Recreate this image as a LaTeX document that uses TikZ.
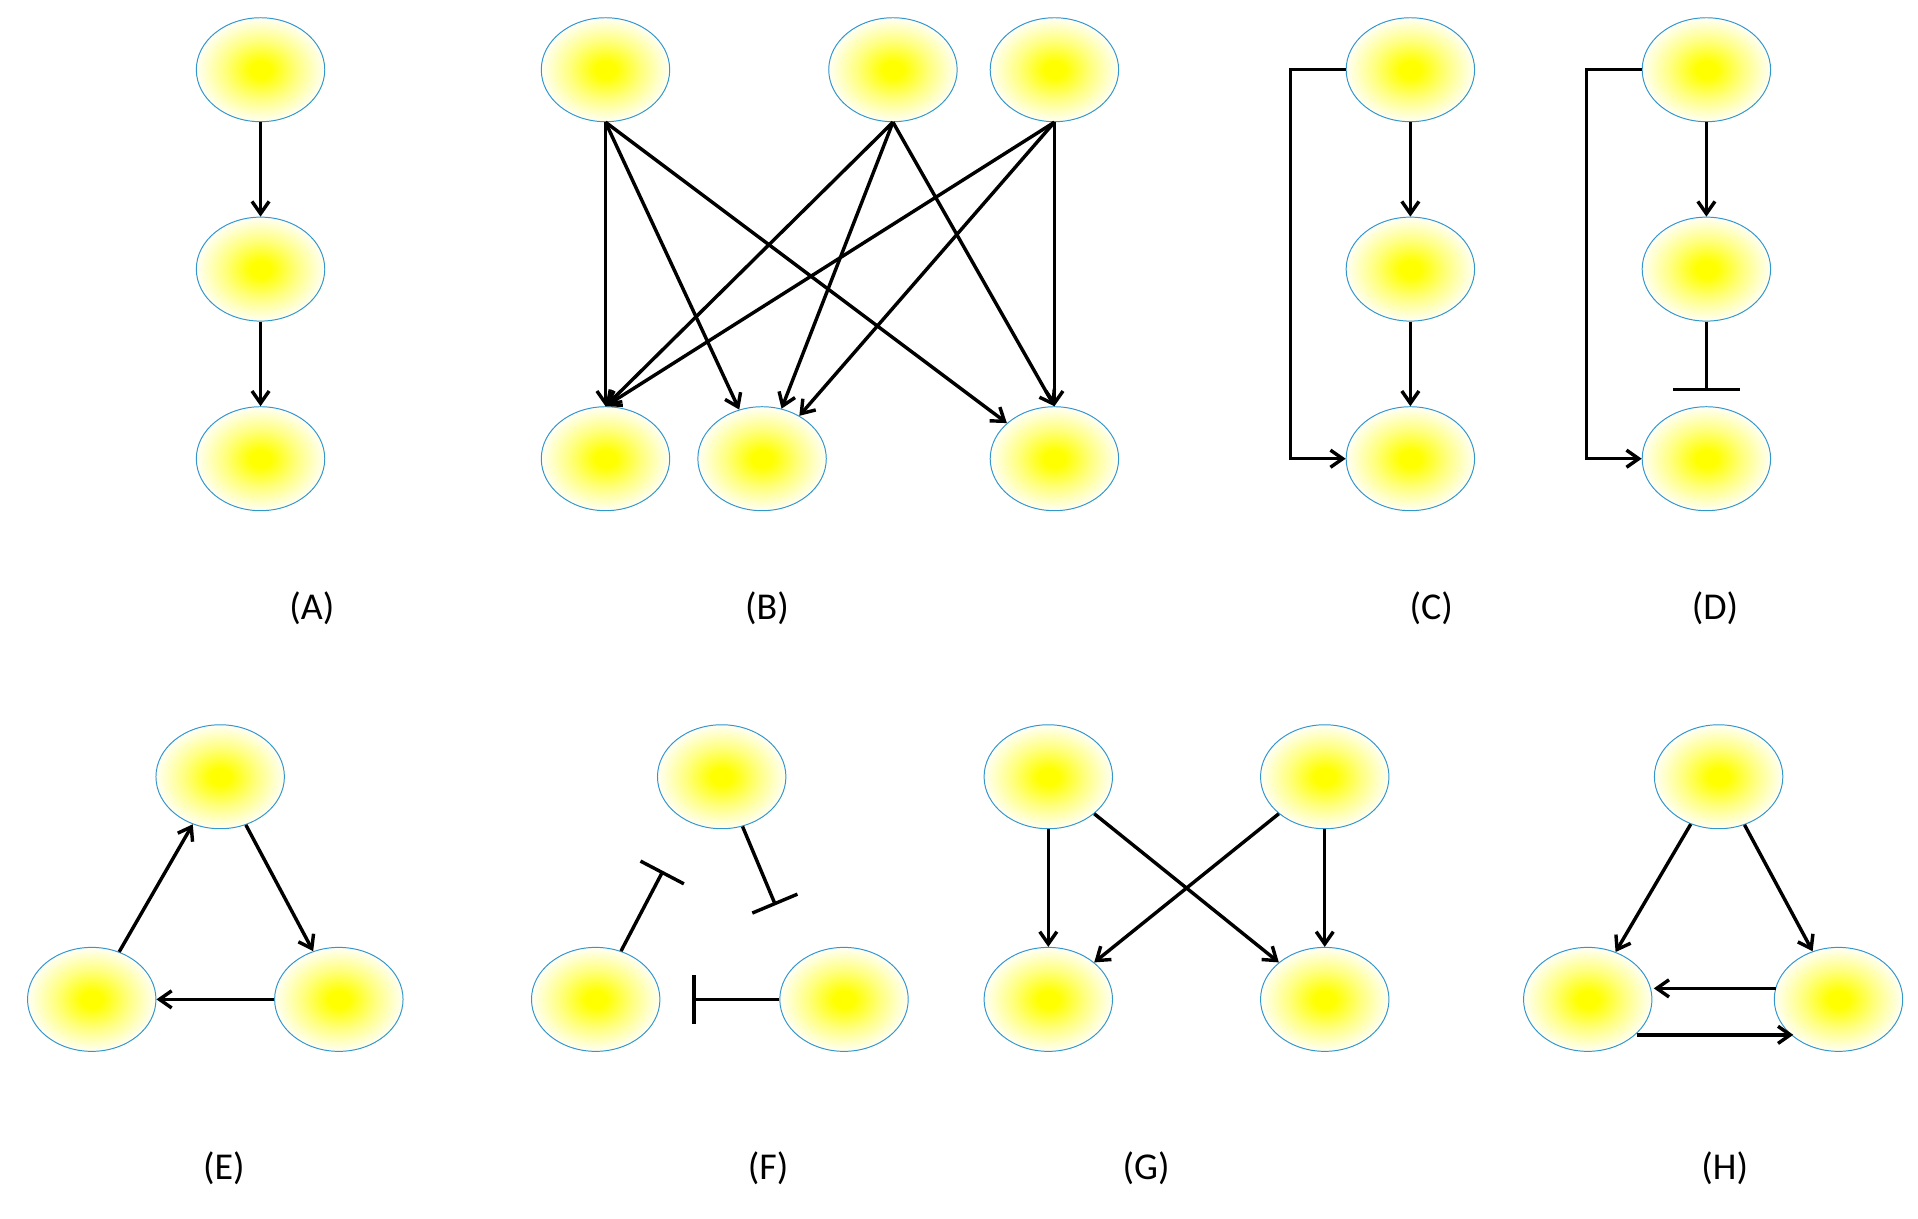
\documentclass[tikz,border=0pt]{standalone}
\usepackage{fontspec}
\setmainfont{Carlito}
\usetikzlibrary{arrows.meta,shapes.geometric}
\pgfdeclareradialshading{cellshade}{\pgfpoint{0bp}{0bp}}{color(0bp)=(yellow); color(4bp)=(yellow); color(14bp)=(yellow!50!white); color(26bp)=(white); color(50bp)=(white)}
\begin{document}
\begin{tikzpicture}[x=1pt,y=-1pt,
  cell/.style={ellipse,minimum width=105pt,minimum height=85pt,inner sep=0pt,draw=blue!35!cyan!60!gray,line width=0.8pt,shading=cellshade},
  act/.style={line width=2.8pt,-{Straight Barb[length=10pt,width=14pt]}},
  inh/.style={line width=2.8pt},
  lab/.style={font=\fontsize{31}{34}\selectfont}]
\useasboundingbox (0,0) rectangle (1568,996);
% A
\node[cell] (a1) at (213,57) {}; \node[cell] (a2) at (213,220) {}; \node[cell] (a3) at (213,375) {};
\draw[act] (a1) -- (a2); \draw[act] (a2) -- (a3);
\node[lab] (la) at (255,497) {(A)};
% B
\node[cell] (t1) at (495,57) {}; \node[cell] (t2) at (730,57) {}; \node[cell] (t3) at (862,57) {};
\node[cell] (b1) at (495,375) {}; \node[cell] (b2) at (623,375) {}; \node[cell] (b3) at (862,375) {};
\foreach \t in {t1,t2,t3}{\draw[act] (\t.south) -- (b1.north); \draw[act] (\t.south) -- (b2);}
\draw[act] (t1.south) -- (b3); \draw[act] (t2.south) -- (b3.north); \draw[act] (t3.south) -- (b3.north);
\node[lab] (lb) at (627,497) {(B)};
% C
\node[cell] (c1) at (1153,57) {}; \node[cell] (c2) at (1153,220) {}; \node[cell] (c3) at (1153,375) {};
\draw[act] (c1) -- (c2); \draw[act] (c2) -- (c3);
\draw[act] (c1.west) -- ++(-45,0) |- (c3.west);
\node[lab] (lc) at (1170,497) {(C)};
% D
\node[cell] (d1) at (1395,57) {}; \node[cell] (d2) at (1395,220) {}; \node[cell] (d3) at (1395,375) {};
\draw[act] (d1) -- (d2);
\coordinate (dbar) at (1395,320);
\draw[inh,-{Bar[width=55pt]}] (d2) -- (dbar);
\draw[act] (d1.west) -- ++(-45,0) |- (d3.west);
\node[lab] (ld) at (1402,497) {(D)};
% E
\node[cell] (e1) at (180,635) {}; \node[cell] (e2) at (75,817) {}; \node[cell] (e3) at (277,817) {};
\draw[act] (e2) -- (e1); \draw[act] (e1) -- (e3); \draw[act] (e3) -- (e2);
\node[lab] (le) at (183,955) {(E)};
% F
\node[cell] (f1) at (590,635) {}; \node[cell] (f2) at (487,817) {}; \node[cell] (f3) at (690,817) {};
\coordinate (fa) at (634,740); \coordinate (fb) at (566,817); \coordinate (fc) at (542,712);
\draw[inh,-{Bar[width=40pt]}] (f1) -- (fa);
\draw[inh,-{Bar[width=40pt]}] (f3) -- (fb);
\draw[inh,-{Bar[width=40pt]}] (f2) -- (fc);
\node[lab] (lf) at (628,955) {(F)};
% G
\node[cell] (g1) at (857,635) {}; \node[cell] (g2) at (1083,635) {};
\node[cell] (g3) at (857,817) {}; \node[cell] (g4) at (1083,817) {};
\draw[act] (g1) -- (g3); \draw[act] (g2) -- (g4);
\draw[act] (g1) -- (g4); \draw[act] (g2) -- (g3);
\node[lab] (lg) at (937,955) {(G)};
% H
\node[cell] (h1) at (1405,635) {}; \node[cell] (h2) at (1298,817) {}; \node[cell] (h3) at (1503,817) {};
\draw[act] (h1) -- (h2); \draw[act] (h1) -- (h3);
\coordinate (hs) at (1452,808); \coordinate (he) at (1352,808);
\draw[act] (hs) -- (he);
\coordinate (hs2) at (1338,846); \coordinate (he2) at (1466,846);
\draw[act] (hs2) -- (he2);
\node[lab] (lh) at (1410,955) {(H)};
\end{tikzpicture}
\end{document}
